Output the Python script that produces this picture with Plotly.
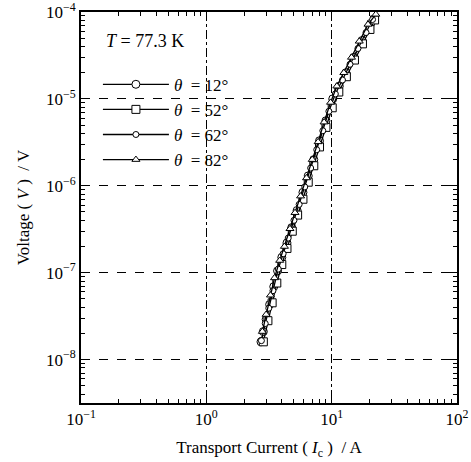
import plotly.graph_objects as go

# --- data ---
I_12 = [2.73, 2.85, 3.0, 3.2, 3.45, 3.7, 4.0, 4.4, 4.8, 5.3, 5.9, 6.5, 7.2, 8.0, 9.0, 10.2, 11.5, 13.0, 15.0, 17.5, 20.5]
V_12 = [1.6e-8, 2.1e-8, 2.9e-8, 4.3e-8, 6.9e-8, 1.05e-7, 1.5e-7, 2.2e-7, 3.3e-7, 5.2e-7, 8.4e-7, 1.3e-6, 2.0e-6, 3.3e-6, 5.6e-6, 1.0e-5, 1.4e-5, 2.0e-5, 3.0e-5, 4.7e-5, 7.4e-5]

I_52 = [2.85, 3.1, 3.35, 3.65, 4.0, 4.4, 4.85, 5.35, 5.9, 6.5, 7.2, 8.0, 9.0, 10.1, 11.4, 13.1, 15.2, 17.6, 20.2, 22.0]
V_52 = [1.6e-8, 2.8e-8, 4.5e-8, 7.6e-8, 1.24e-7, 1.9e-7, 3.0e-7, 4.6e-7, 7.0e-7, 1.1e-6, 1.7e-6, 2.8e-6, 4.7e-6, 7.9e-6, 1.2e-5, 1.8e-5, 2.8e-5, 4.3e-5, 6.3e-5, 8.1e-5]

I_62 = [2.75, 2.95, 3.15, 3.4, 3.75, 4.1, 4.5, 5.0, 5.5, 6.1, 6.8, 7.6, 8.5, 9.5, 10.7, 12.2, 14.0, 16.2, 18.8, 21.2]
V_62 = [1.65e-8, 2.6e-8, 3.9e-8, 6.2e-8, 1.1e-7, 1.65e-7, 2.5e-7, 4.0e-7, 6.1e-7, 9.7e-7, 1.6e-6, 2.6e-6, 4.3e-6, 7.2e-6, 1.14e-5, 1.65e-5, 2.5e-5, 3.8e-5, 5.8e-5, 8.2e-5]

I_82 = [2.8, 3.0, 3.25, 3.5, 3.85, 4.2, 4.65, 5.1, 5.65, 6.3, 7.0, 7.8, 8.7, 9.8, 11.0, 12.5, 14.4, 16.6, 19.5, 22.5]
V_82 = [2.1e-8, 3.3e-8, 5.5e-8, 8.7e-8, 1.38e-7, 2.0e-7, 3.2e-7, 4.9e-7, 7.6e-7, 1.23e-6, 2.0e-6, 3.2e-6, 5.4e-6, 9.1e-6, 1.4e-5, 2.0e-5, 3.0e-5, 4.6e-5, 7.2e-5, 9.4e-5]

x_tickvals = [0.1, 1, 10, 100]
x_ticktext = ["10<sup>−1</sup>", "10<sup>0</sup>", "10<sup>1</sup>", "10<sup>2</sup>"]
y_tickvals = [1e-8, 1e-7, 1e-6, 1e-5, 1e-4]
y_ticktext = ["10<sup>−8</sup>", "10<sup>−7</sup>", "10<sup>−6</sup>", "10<sup>−5</sup>", "10<sup>−4</sup>"]
temperature_label = "<i>T</i> = 77.3 K"

series = [
    ("<i>θ</i>  = 12°", I_12, V_12, "circle", 8, "solid"),
    ("<i>θ</i>  = 52°", I_52, V_52, "square", 8, "solid"),
    ("<i>θ</i>  = 62°", I_62, V_62, "circle", 6, "solid"),
    ("<i>θ</i>  = 82°", I_82, V_82, "triangle-up", 7, "solid"),
]

X_RANGE = [-1, 2]
Y_RANGE = [-8.5, -4]

# minor tick positions (2..9 within each decade)
x_minor = [m * 10.0 ** e for e in (-1, 0, 1) for m in range(2, 10)]
y_minor = [m * 10.0 ** e for e in (-9, -8, -7, -6, -5) for m in range(2, 10)]

fig = go.Figure()
for i, (name, xs, ys, sym, sz, dash) in enumerate(series):
    fig.add_trace(go.Scatter(
        x=xs, y=ys, mode="lines+markers", name=name,
        legendgroup=str(i),
        line=dict(color="black", width=1.3, dash=dash),
        marker=dict(symbol=sym, size=sz, color="white",
                    line=dict(color="black", width=1)),
    ))

# invisible copy of one series on the overlaid axes so those axes (minor ticks) are drawn
fig.add_trace(go.Scatter(x=I_12, y=V_12, xaxis="x2", yaxis="y2", mode="markers",
                         marker=dict(opacity=0, size=1), showlegend=False,
                         hoverinfo="skip"))

font_family = "Liberation Serif, Times New Roman, serif"

axis_common = dict(
    type="log",
    automargin=False,
    showline=True, linecolor="black", linewidth=2, mirror="ticks",
    ticks="inside", ticklen=8, tickwidth=1.2, tickcolor="black",
    showgrid=True, gridcolor="black", gridwidth=1,
    zeroline=False,
    ticklabeloverflow="allow",
    tickfont=dict(family=font_family, size=17, color="black"),
)

minor_axis = dict(
    type="log", automargin=False,
    tickmode="array",
    ticks="inside", ticklen=4, tickwidth=1, tickcolor="black",
    mirror="ticks", showline=True, linecolor="black", linewidth=2,
    showgrid=False, zeroline=False, showticklabels=False,
)

fig.update_layout(
    xaxis=dict(
        **axis_common,
        range=X_RANGE,
        tickmode="array", tickvals=x_tickvals, ticktext=x_ticktext,
        griddash="dashdot",
        title=dict(text="Transport Current ( <i>I</i><sub>c</sub> )  / A",
                   font=dict(family=font_family, size=17, color="black"),
                   standoff=13),
    ),
    yaxis=dict(
        **axis_common,
        range=Y_RANGE,
        tickmode="array", tickvals=y_tickvals, ticktext=y_ticktext,
        griddash="dash",
        title=dict(text="Voltage ( <i>V</i> )  / V",
                   font=dict(family=font_family, size=17, color="black"),
                   standoff=12),
    ),
    xaxis2=dict(**minor_axis, overlaying="x", anchor="y2", side="bottom",
                range=X_RANGE, tickvals=x_minor),
    yaxis2=dict(**minor_axis, overlaying="y", anchor="x2", side="left",
                range=Y_RANGE, tickvals=y_minor),
)

fig.update_layout(
    width=471, height=462,
    margin=dict(l=81, r=14, t=12, b=59),
    paper_bgcolor="white", plot_bgcolor="white",
    showlegend=True,
    legend=dict(
        x=0.045, y=0.86, xanchor="left", yanchor="top",
        bgcolor="rgba(0,0,0,0)", borderwidth=0,
        font=dict(family=font_family, size=17, color="black"),
        itemwidth=66, tracegroupgap=0, traceorder="grouped",
    ),
    annotations=[dict(
        text=temperature_label, xref="paper", yref="paper",
        x=0.06, y=0.925, xanchor="left", yanchor="middle", showarrow=False,
        font=dict(family=font_family, size=18, color="black"),
    )],
)

fig.write_html("out.html")
